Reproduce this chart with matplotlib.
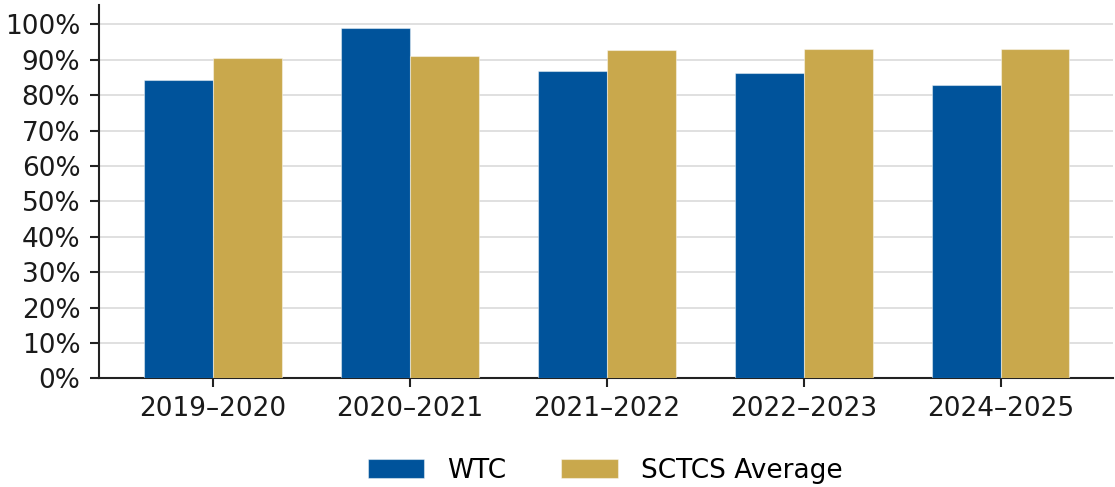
import matplotlib
matplotlib.use("Agg")
import matplotlib.pyplot as plt
import numpy as np
from matplotlib.ticker import FuncFormatter, MultipleLocator

categories = ["2019–2020", "2020–2021", "2021–2022", "2022–2023", "2024–2025"]
wtc = [84.3, 99.0, 86.9, 86.2, 82.8]
sctcs = [90.5, 91.2, 92.7, 93.1, 93.1]
series_names = ["WTC", "SCTCS Average"]
colors = ["#00539B", "#C9A84C"]

plt.rcParams['font.family'] = ['DejaVu Sans']
fig = plt.figure(figsize=(11.15, 4.87), dpi=100)
ax = fig.add_axes([0.0888, 0.2228, 0.9092, 0.7669])

x = np.arange(len(categories))
w = 0.35
edge = (1, 1, 1, 0.45)
ax.bar(x - w/2, wtc, w, color=colors[0], edgecolor=edge, linewidth=0.8, label=series_names[0], zorder=3)
ax.bar(x + w/2, sctcs, w, color=colors[1], edgecolor=edge, linewidth=0.8, label=series_names[1], zorder=3)

ax.set_xlim(-0.58, 4.57)
ax.set_ylim(0, 105.5)
ax.yaxis.set_major_locator(MultipleLocator(10))
ax.yaxis.set_major_formatter(FuncFormatter(lambda v, p: f"{int(round(v))}%"))
ax.set_xticks(x)
ax.set_xticklabels(categories)
ax.grid(axis="y", color="#dddddd", linewidth=1.3, zorder=0)
ax.set_axisbelow(True)
for s in ["top", "right"]:
    ax.spines[s].set_visible(False)
for s in ["left", "bottom"]:
    ax.spines[s].set_linewidth(1.5)
    ax.spines[s].set_color("#222222")
ax.tick_params(axis="both", labelsize=19, length=6.5, width=1.5, color="#222222", labelcolor="#1a1a1a")
ax.tick_params(axis="y", pad=7)
ax.tick_params(axis="x", pad=6)

fig.legend(loc="center", bbox_to_anchor=(0.5425, 0.033), ncol=2, frameon=False, fontsize=19,
           handlelength=2.15, handleheight=0.75, handletextpad=0.85, columnspacing=2.1)

fig.savefig("out.png", dpi=100)
